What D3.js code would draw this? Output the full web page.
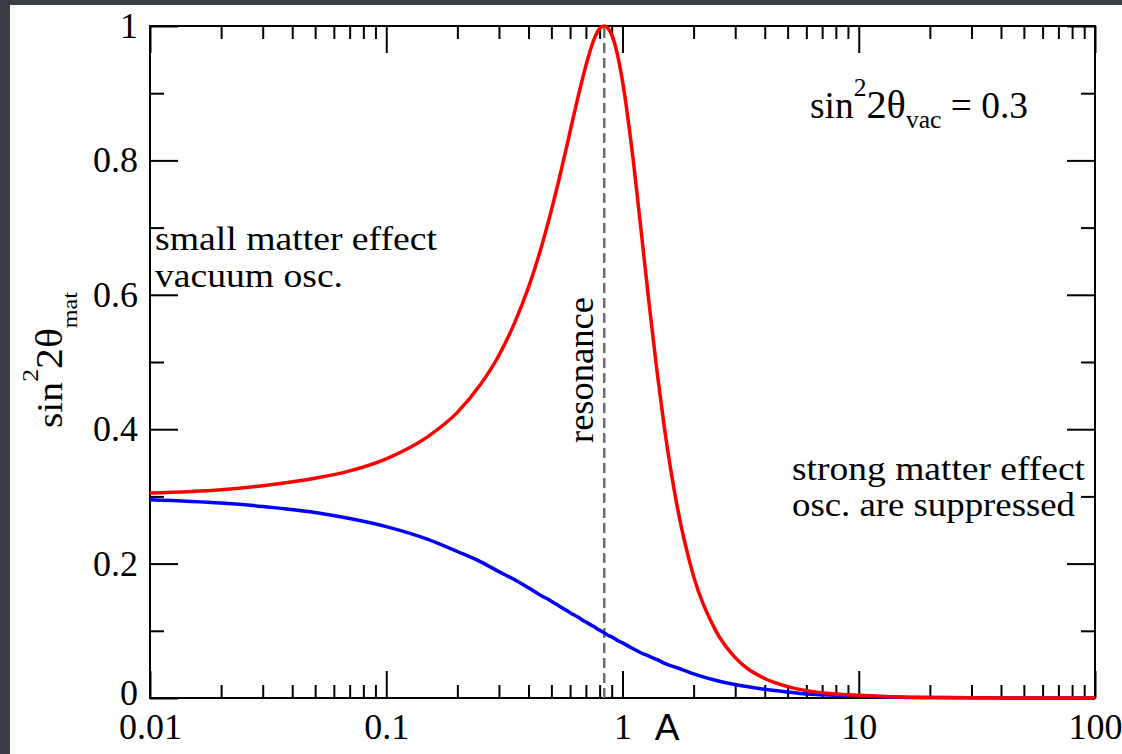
<!DOCTYPE html>
<html><head><meta charset="utf-8">
<script src="https://cdn.jsdelivr.net/npm/d3@7"></script>
<style>body{margin:0;background:#3b3d45;}svg{display:block}</style>
</head><body>
<svg id="c" width="1122" height="754"></svg>
<script>
// ---- data ----
const ratioA = [0.01,0.02,0.03,0.05,0.07,0.1,0.15,0.2,0.25,0.3,0.35,0.4,0.45,0.5,0.55,0.6,0.65,0.7,0.75,0.8,0.837,0.87,0.9,0.95,1.0,1.1,1.2,1.3,1.4,1.5,1.7,2.0,2.5,3,4,5,6,8,10,15,20,30,50,100];
const neutrinoValues = [0.305,0.310,0.316,0.327,0.338,0.356,0.389,0.425,0.466,0.510,0.559,0.611,0.667,0.726,0.785,0.843,0.896,0.941,0.976,0.996,1.000,0.996,0.987,0.959,0.918,0.812,0.694,0.583,0.486,0.405,0.287,0.181,0.098,0.060,0.029,0.017,0.011,0.006,0.004,0.0015,0.0008,0.0004,0.0001,0.0];
const antineutrinoValues = [0.295,0.290,0.285,0.276,0.267,0.255,0.236,0.218,0.203,0.188,0.176,0.164,0.153,0.144,0.135,0.127,0.120,0.113,0.107,0.101,0.097,0.093,0.091,0.086,0.082,0.074,0.067,0.062,0.057,0.052,0.045,0.036,0.026,0.020,0.013,0.009,0.006,0.004,0.003,0.001,0.0007,0.0003,0.0001,0.0];
const resonanceA = [0.837];
const xMajorTicks = [0.01,0.1,1,10,100];
const xTickLabels = ["0.01","0.1","1","10","100"];
const yMajorTicks = [0,0.2,0.4,0.6,0.8,1];
const yTickLabels = ["0","0.2","0.4","0.6","0.8","1"];
const yMinorTicks = [0.1,0.3,0.5,0.7,0.9];
const xMinorMultipliers = [2,3,4,5,6,7,8,9];

// ---- layout ----
const W=1122,H=754, L=150,R=1095,T=26,B=698;
const svg=d3.select("#c");
svg.append("rect").attr("width",W).attr("height",H).attr("fill","#3b3d45");
svg.append("rect").attr("x",10).attr("y",5).attr("width",W-10).attr("height",H-5).attr("fill","#fff");

const x=d3.scaleLog().domain([0.01,100]).range([L,R]);
const y=d3.scaleLinear().domain([0,1]).range([B,T]);
const serif="'Liberation Serif','Times New Roman',serif";

const xMinor=[];
xMajorTicks.slice(0,-1).forEach(d=>xMinorMultipliers.forEach(m=>xMinor.push(d*m)));

function styleAxis(g){
  g.select(".domain").remove();
  g.selectAll("line").attr("stroke","#000").attr("stroke-width",2);
  g.selectAll("text").attr("font-family",serif).attr("font-size",36).attr("fill","#000");
}
// bottom
svg.append("g").attr("transform",`translate(0,${B})`)
  .call(d3.axisBottom(x).tickValues(xMajorTicks).tickSize(-27).tickPadding(15).tickFormat((d,i)=>xTickLabels[i])).call(styleAxis);
svg.append("g").attr("transform",`translate(0,${B})`)
  .call(d3.axisBottom(x).tickValues(xMinor).tickSize(-13).tickFormat("")).call(styleAxis);
// top
svg.append("g").attr("transform",`translate(0,${T})`)
  .call(d3.axisTop(x).tickValues(xMajorTicks).tickSize(-27).tickFormat("")).call(styleAxis);
svg.append("g").attr("transform",`translate(0,${T})`)
  .call(d3.axisTop(x).tickValues(xMinor).tickSize(-13).tickFormat("")).call(styleAxis);
// left
const yAx=svg.append("g").attr("transform",`translate(${L},0)`)
  .call(d3.axisLeft(y).tickValues(yMajorTicks).tickSize(-28).tickPadding(12).tickFormat((d,i)=>yTickLabels[i])).call(styleAxis);
yAx.selectAll("text").filter(d=>d===0).attr("dy","0.18em");
svg.append("g").attr("transform",`translate(${L},0)`)
  .call(d3.axisLeft(y).tickValues(yMinorTicks).tickSize(-14).tickFormat("")).call(styleAxis);
// right
svg.append("g").attr("transform",`translate(${R},0)`)
  .call(d3.axisRight(y).tickValues(yMajorTicks).tickSize(-28).tickFormat("")).call(styleAxis);
svg.append("g").attr("transform",`translate(${R},0)`)
  .call(d3.axisRight(y).tickValues(yMinorTicks).tickSize(-14).tickFormat("")).call(styleAxis);

// frame
svg.append("rect").attr("x",L).attr("y",T).attr("width",R-L).attr("height",B-T)
  .attr("fill","none").attr("stroke","#000").attr("stroke-width",2);

// resonance line
svg.selectAll(".res").data(resonanceA).enter().append("line")
  .attr("x1",d=>x(d)).attr("x2",d=>x(d)).attr("y1",y(0)).attr("y2",y(1))
  .attr("stroke","#6e6e6e").attr("stroke-width",2.5).attr("stroke-dasharray","10,5");

// curves
const line=d3.line().x((d,i)=>x(ratioA[i])).y(d=>y(d)).curve(d3.curveMonotoneX);
svg.append("path").datum(antineutrinoValues).attr("d",line).attr("fill","none").attr("stroke","#0000ff").attr("stroke-width",3.5);
svg.append("path").datum(neutrinoValues).attr("d",line).attr("fill","none").attr("stroke","#ff0000").attr("stroke-width",3.5);

// annotations
function label(txt,x0,y0,size,len){
  return svg.append("text").attr("x",x0).attr("y",y0).attr("font-family",serif).attr("font-size",size)
    .attr("fill","#000").attr("textLength",len).attr("lengthAdjust","spacingAndGlyphs").text(txt);
}
label("small matter effect",155,250,33,282);
label("vacuum osc.",155,287,33,188);
label("strong matter effect",792,480,33,293);
label("osc. are suppressed",792,516,33,283);

svg.append("text").attr("transform",`translate(593,${443}) rotate(-90)`)
  .attr("font-family",serif).attr("font-size",36).attr("fill","#000")
  .attr("textLength",146).attr("lengthAdjust","spacingAndGlyphs").text("resonance");

// sin^2 2theta_vac = 0.3
const tv=svg.append("text").attr("x",810).attr("y",118).attr("font-family",serif).attr("fill","#000")
  .attr("textLength",218).attr("lengthAdjust","spacingAndGlyphs");
tv.append("tspan").attr("font-size",38).text("sin");
tv.append("tspan").attr("font-size",26).attr("dy",-22).text("2");
tv.append("tspan").attr("font-size",41).attr("dy",22).text("2θ");
tv.append("tspan").attr("font-size",26).attr("dy",10).text("vac");
tv.append("tspan").attr("font-size",38).attr("dy",-10).text(" = 0.3");

// y-axis title
const ty=svg.append("text").attr("transform","translate(62,428) rotate(-90)").attr("font-family",serif).attr("fill","#000")
  .attr("textLength",136).attr("lengthAdjust","spacingAndGlyphs");
ty.append("tspan").attr("font-size",36).text("sin");
ty.append("tspan").attr("font-size",24).attr("dy",-24).text("2");
ty.append("tspan").attr("font-size",38).attr("dy",24).text("2θ");
ty.append("tspan").attr("font-size",22).attr("dy",15).text("mat");

// x-axis title fragment
svg.append("text").attr("x",667).attr("y",740).attr("text-anchor","middle")
  .attr("font-family","'Liberation Sans',Arial,sans-serif").attr("font-size",37).attr("fill","#000").text("A");
</script>
</body></html>
